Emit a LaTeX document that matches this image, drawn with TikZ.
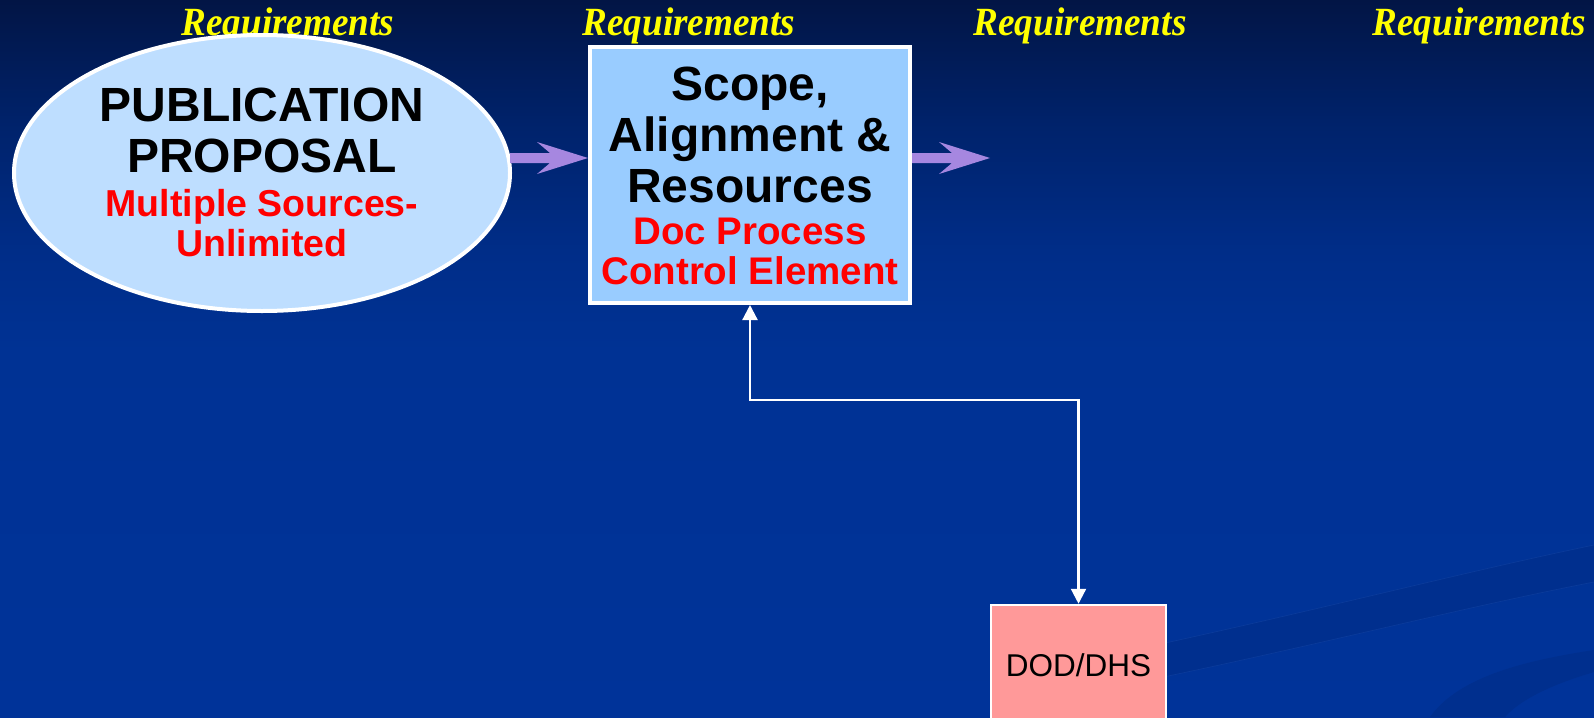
\documentclass[tikz,border=0pt]{standalone}
\usepackage{fontspec}
\setmainfont{Liberation Sans}
\newfontfamily\reqfamily{Liberation Serif}
\usetikzlibrary{shapes.geometric,arrows.meta,calc}

\definecolor{bgA}{HTML}{021545}
\definecolor{bgB}{HTML}{00226A}
\definecolor{bgC}{HTML}{002D88}
\definecolor{bgD}{HTML}{003294}
\definecolor{bgE}{HTML}{003399}
\definecolor{swoosh}{HTML}{002F8E}
\definecolor{swooshline}{HTML}{1A4AA8}
\definecolor{ovalfill}{HTML}{BEDEFF}
\definecolor{boxfill}{HTML}{99CCFF}
\definecolor{dodfill}{HTML}{FF9999}
\definecolor{flowpurple}{HTML}{A687E0}
\definecolor{reqyellow}{HTML}{FFFF00}
\definecolor{alert}{HTML}{FF0000}

\tikzset{
  reqlabel/.style={anchor=base, text=reqyellow,
    font=\reqfamily\bfseries\itshape\fontsize{40}{44}\selectfont, inner sep=0pt},
  bigtext/.style={align=center, font=\bfseries\fontsize{48}{51}\selectfont, inner sep=0pt},
  oval/.style={ellipse, draw=white, line width=4pt, fill=ovalfill,
    minimum width=496pt, minimum height=276pt, outer sep=2pt},
  stagebox/.style={rectangle, draw=white, line width=4pt, fill=boxfill,
    minimum width=320pt, minimum height=256pt, outer sep=2pt},
  agencybox/.style={rectangle, draw=white, line width=2.5pt, fill=dodfill,
    minimum width=175pt, minimum height=120pt, outer sep=1.25pt,
    font=\fontsize{31.5}{36}\selectfont},
  flow/.style={fill=flowpurple},
  link/.style={draw=white, line width=2.2pt,
    {Triangle[length=15pt,width=15pt]}-{Triangle[length=15pt,width=15pt]}},
}

% purple block arrow: shaft from #1 to the tip at #2 (horizontal)
\newcommand\flowarrow[2]{%
  \fill[flow] let \p1=(#1), \p2=(#2) in
    (\x1,\y1+5pt) -- (\x2-38pt,\y1+5pt) -- (\x2-51pt,\y1+16pt) -- (\x2,\y1)
    -- (\x2-51pt,\y1-16pt) -- (\x2-38pt,\y1-5pt) -- (\x1,\y1-5pt) -- cycle;}

\begin{document}
\begin{tikzpicture}[x=1pt,y=-1pt]
  \useasboundingbox (0,0) rectangle (1594,717);

  % backdrop
  \shade[top color=bgA, bottom color=bgB] (0,0) rectangle (1594,120.5);
  \shade[top color=bgB, bottom color=bgC] (0,120) rectangle (1594,250.5);
  \shade[top color=bgC, bottom color=bgD] (0,250) rectangle (1594,350.5);
  \shade[top color=bgD, bottom color=bgE] (0,350) rectangle (1594,717);

  % swooshes in the lower right corner
  \begin{scope}
    \clip (0,0) rectangle (1594,717);
    \fill[swoosh] (1100,657) .. controls (1300,615) and (1450,575) .. (1594,545)
      -- (1594,582) .. controls (1450,610) and (1300,650) .. (1100,690) -- cycle;
    \draw[swooshline, line width=0.7pt, opacity=0.4]
      (1100,657) .. controls (1300,615) and (1450,575) .. (1594,545);
    \draw[swooshline, line width=0.7pt, opacity=0.4]
      (1100,690) .. controls (1300,650) and (1450,610) .. (1594,582);
    \fill[swoosh] (1430,717) .. controls (1460,675) and (1530,660) .. (1594,650)
      -- (1594,672) .. controls (1550,685) and (1520,700) .. (1505,717) -- cycle;
  \end{scope}

  % section headings
  \node[reqlabel] (req1) at (288,36) {\scalebox{0.93}[1]{Requirements}};
  \node[reqlabel] (req2) at (689,36) {\scalebox{0.93}[1]{Requirements}};
  \node[reqlabel] (req3) at (1080,36) {\scalebox{0.93}[1]{Requirements}};
  \node[reqlabel] (req4) at (1479,36) {\scalebox{0.93}[1]{Requirements}};

  % process elements
  \node[oval] (pub) at (262,173) {};
  \node[bigtext] (pubtext) at (262,172) {PUBLICATION\\PROPOSAL\\[-7pt]
    \color{alert}\fontsize{37.5}{40}\selectfont Multiple Sources-\\[-11pt]
    \color{alert}\fontsize{37.5}{40}\selectfont Unlimited};

  \node[stagebox] (scope) at (750,175) {};
  \node[bigtext] (scopetext) at (750,176) {Scope,\\Alignment \&\\Resources\\[-9pt]
    \color{alert}\fontsize{38.5}{40}\selectfont Doc Process\\[-11pt]
    \color{alert}\fontsize{38.5}{40}\selectfont Control Element};

  \node[agencybox] (dod) at (1078.5,665) {DOD/DHS};

  % flow between elements
  \coordinate (next) at ($(scope.east)+(78,-17)$);
  \flowarrow{$(pub.east)+(-2,-15)$}{$(scope.west)+(0,-17)$}
  \flowarrow{$(scope.east)+(0,-17)$}{next}

  % two-way link to the agency
  \draw[link] (scope.south) -- ++(0,95) -| (dod.north);
\end{tikzpicture}
\end{document}
